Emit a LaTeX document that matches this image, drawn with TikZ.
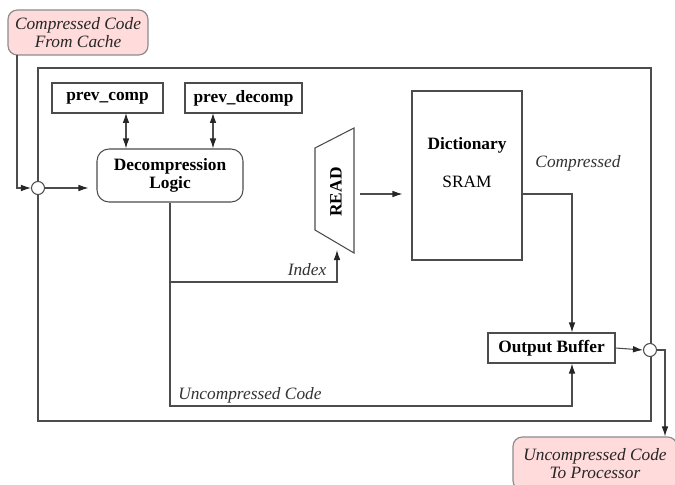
\documentclass[tikz,border=0pt]{standalone}
\usepackage{fontspec}
\setmainfont{Liberation Serif}
\usetikzlibrary{arrows.meta,calc}
\begin{document}
\begin{tikzpicture}[x=0.75pt,y=-0.75pt,
 line/.style={draw=black!70,line width=0.8pt},
 tip/.tip={Latex[length=7.5pt,width=5pt,color=black!85]},
 arr/.style={line,-tip},
 darr/.style={line,tip-tip},
 box/.style={line,fill=white,font=\bfseries\fontsize{13}{14}\selectfont,inner sep=0pt,align=center},
 pinkbox/.style={draw=black!45,fill=red!14,rounded corners=7pt,line width=0.9pt,font=\itshape\fontsize{13}{13.5}\selectfont,text=black!85,align=center,inner sep=0pt},
 lbl/.style={font=\itshape\fontsize{13}{14}\selectfont,text=black!80,inner sep=0pt},
 junc/.style={circle,line,fill=white,inner sep=0pt,minimum size=13*0.75pt}]
\useasboundingbox (0,0) rectangle (675,485);
% outer frame
\draw[line] (38,68) rectangle (651,421);
% sources / sinks
\node[pinkbox,minimum width=140*0.75pt,minimum height=45*0.75pt] (src) at (78,32.5) {Compressed Code\\From Cache};
\node[pinkbox,minimum width=164*0.75pt,minimum height=53*0.75pt] (dst) at (595,463.5) {Uncompressed Code\\To Processor};
% registers
\node[box,minimum width=111*0.75pt,minimum height=30*0.75pt] (pc) at (107.5,98) {prev\_comp};
\node[box,minimum width=117*0.75pt,minimum height=30*0.75pt] (pd) at (243.5,98) {prev\_decomp};
% decompression logic
\node[box,rounded corners=9pt,minimum width=146*0.75pt,minimum height=53*0.75pt] (dl) at (170,175.5) {Decompression\\Logic};
% READ trapezoid
\draw[line] (315,148) -- (354,128) -- (354,253) -- (315,230) -- cycle;
\node[font=\bfseries\fontsize{13}{14}\selectfont,rotate=90,inner sep=0pt] (read) at (336,192) {READ};
% dictionary
\node[line,minimum width=110*0.75pt,minimum height=169*0.75pt,inner sep=0pt] (dict) at (467,175.5) {};
\node[font=\bfseries\fontsize{13}{14}\selectfont,inner sep=0pt] (dictt) at (467,145) {Dictionary};
\node[font=\fontsize{13}{14}\selectfont,inner sep=0pt] (sram) at (467,182) {SRAM};
% output buffer
\node[box,minimum width=127*0.75pt,minimum height=30*0.75pt] (ob) at (551.5,348) {Output Buffer};
% junctions
\node[junc] (cin) at (38,188) {};
\node[junc] (cout) at (650,350) {};
% coordinates
\coordinate (inx) at (17,55);
\coordinate (split) at (170,282);
\coordinate (readin) at (337,250);
\coordinate (readout) at (360,194);
\coordinate (outx) at (665,350);
\coordinate (pca) at (126,113);
\coordinate (pda) at (213,113);
\coordinate (bx) at (572,406);
% connectors
\draw[arr] (inx) |- (cin.west);
\draw[arr,shorten >=8*0.75pt] (cin.east) -- (dl.west |- cin.east);
\draw[darr] (pca) -- (pca |- dl.north);
\draw[darr] (pda) -- (pda |- dl.north);
\draw[line] (dl.south) -- (split);
\draw[arr] (split) -| (readin);
\draw[arr,shorten >=9*0.75pt] (readout) -- (dict.west |- readout);
\draw[arr] (dict.east |- readout) -| (bx |- ob.north);
\draw[arr] (split) |- (bx) -- (bx |- ob.south);
\draw[arr] (ob.east) -- (cout.west);
\draw[arr] (cout.east) -| (outx |- dst.north);
% labels
\node[lbl] (lidx) at (307,270) {Index};
\node[lbl] (lcomp) at (578,163) {Compressed};
\node[lbl,anchor=west] (lunc) at (178,395) {Uncompressed Code};
\end{tikzpicture}
\end{document}
